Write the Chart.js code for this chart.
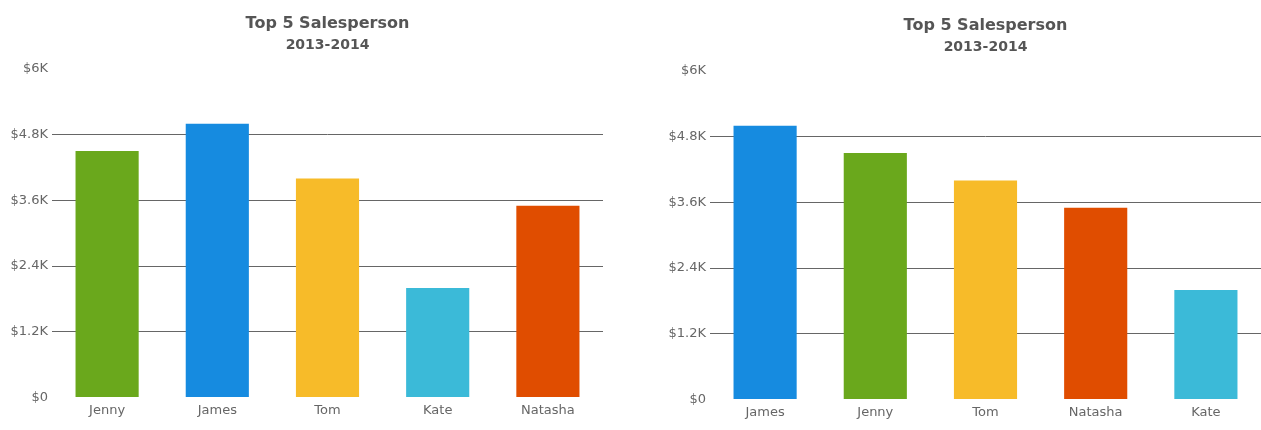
<!DOCTYPE html>
<html>
<head>
<meta charset="utf-8">
<script src="https://cdn.jsdelivr.net/npm/chart.js@4"></script>
<style>
  html, body { margin: 0; padding: 0; background: #fff; }
  body { width: 1261px; height: 430px; position: relative; overflow: hidden; }
  .box { position: absolute; top: 0; width: 603px; height: 430px; }
  #boxKiri { left: 0; }
  #boxKanan { left: 658px; top: 2px; }
</style>
</head>
<body>
<div class="box" id="boxKiri"><canvas id="chartKiri"></canvas></div>
<div class="box" id="boxKanan"><canvas id="chartKanan"></canvas></div>
<script>
// Data grafik kiri (urutan asli)
const namaKiri = ['Jenny', 'James', 'Tom', 'Kate', 'Natasha'];
const penjualanKiri = [4500, 5000, 4000, 2000, 3500];

// Data grafik kanan (diurutkan)
const namaKanan = ['James', 'Jenny', 'Tom', 'Natasha', 'Kate'];
const penjualanKanan = [5000, 4500, 4000, 3500, 2000];

// Sumbu Y
const tickNilai = [0, 1200, 2400, 3600, 4800, 6000];
const tickLabel = ['$0', '$1.2K', '$2.4K', '$3.6K', '$4.8K', '$6K'];

const judul = 'Top 5 Salesperson';
const subJudul = '2013-2014';

// Warna per orang
const warnaOrang = {
    Jenny: '#6aa81c',
    James: '#168be0',
    Tom: '#f7bb29',
    Kate: '#3bbad8',
    Natasha: '#e04d00'
};

Chart.defaults.font.family = '"DejaVu Sans", Verdana, sans-serif';

function buatGrafik(idCanvas, nama, nilai) {
    const ctx = document.getElementById(idCanvas).getContext('2d');
    return new Chart(ctx, {
        type: 'bar',
        data: {
            labels: nama,
            datasets: [{
                data: nilai,
                backgroundColor: nama.map(n => warnaOrang[n]),
                borderWidth: 0,
                barPercentage: 0.573,
                categoryPercentage: 1
            }]
        },
        options: {
            responsive: true,
            maintainAspectRatio: false,
            animation: false,
            layout: { padding: { left: 0, right: 0, top: 0, bottom: 7 } },
            plugins: {
                legend: { display: false },
                tooltip: { enabled: false },
                title: {
                    display: true,
                    text: judul,
                    fullSize: false,
                    color: '#555',
                    font: { size: 16, weight: 'bold' },
                    padding: { top: 14, bottom: 2 }
                },
                subtitle: {
                    display: true,
                    text: subJudul,
                    fullSize: false,
                    color: '#555',
                    font: { size: 14, weight: 'bold' },
                    padding: { top: 2, bottom: 15 }
                }
            },
            scales: {
                x: {
                    grid: { display: false, drawTicks: false, tickLength: 0 },
                    border: { display: false },
                    ticks: { color: '#666', font: { size: 13 }, padding: 5 }
                },
                y: {
                    min: 0,
                    max: 6000,
                    afterFit: (scale) => { scale.width = 52; },
                    afterBuildTicks: (scale) => {
                        scale.ticks = tickNilai.map(v => ({ value: v }));
                    },
                    border: { display: false },
                    grid: {
                        drawTicks: false,
                        color: (c) => (c.tick && (c.tick.value === 0 || c.tick.value === 6000)) ? 'rgba(0,0,0,0)' : '#666',
                        lineWidth: 1
                    },
                    ticks: {
                        color: '#666',
                        font: { size: 13 },
                        padding: 4,
                        callback: (v) => tickLabel[tickNilai.indexOf(v)]
                    }
                }
            }
        }
    });
}

window.onload = function() {
    buatGrafik('chartKiri', namaKiri, penjualanKiri);
    buatGrafik('chartKanan', namaKanan, penjualanKanan);
};
</script>
</body>
</html>
